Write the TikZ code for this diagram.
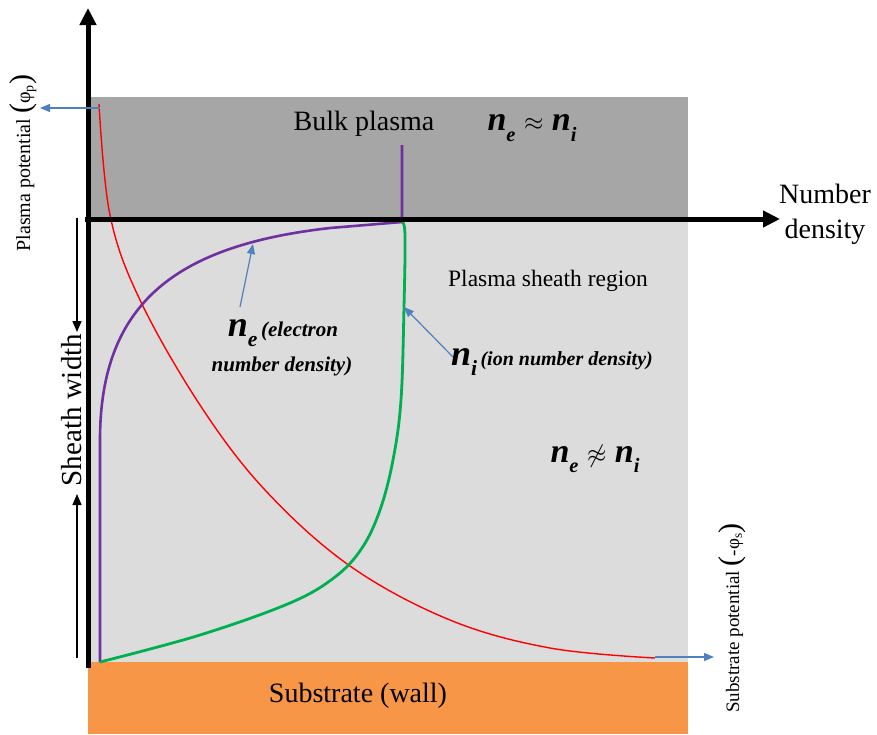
\documentclass[tikz,border=0pt]{standalone}
\usepackage{fontspec}
\setmainfont{Liberation Serif}
\usetikzlibrary{arrows.meta}
\definecolor{darkbg}{HTML}{A6A6A6}
\definecolor{lightbg}{HTML}{DCDCDC}
\definecolor{wallor}{HTML}{F79646}
\definecolor{pur}{HTML}{7030A0}
\definecolor{grn}{HTML}{00B050}
\definecolor{blu}{HTML}{4F81BD}
\newcommand{\nsym}[1]{\textbf{\textit{n}}\raisebox{-0.3em}{\fontsize{0.6em}{0.6em}\selectfont\textbf{\textit{#1}}}}
\tikzset{
  axis/.style={line width=5pt,-{Triangle[length=17pt,width=16pt]}},
  bluearrow/.style={blu,line width=1.2pt,-{Triangle[length=10pt,width=8pt]}},
  sharrow/.style={black,line width=1.3pt,-{Triangle[length=11pt,width=9pt]}},
  lab/.style={inner sep=0pt,font=\fontsize{28}{30}\selectfont},
  bigeq/.style={inner sep=0pt,font=\fontsize{34}{36}\selectfont},
  desc/.style={inner sep=0pt,font=\fontsize{21}{24}\selectfont\bfseries\itshape},
  small/.style={inner sep=0pt,font=\fontsize{20}{22}\selectfont},
}
\newcommand{\bigpar}[1]{{\fontsize{30}{30}\selectfont#1}}
\begin{document}
\begin{tikzpicture}[x=1pt,y=-1pt]
\useasboundingbox (0,0) rectangle (877,734);
% regions
\fill[darkbg] (88,97) rectangle (688,219);
\fill[lightbg] (88,219) rectangle (688,662);
\fill[wallor] (88,662) -- (688,662) -- (688,734) -- (88,734) -- cycle;
% curves
\draw[red,line width=1.4pt] plot[smooth,tension=0.6] coordinates {(99,104) (110,215) (140,300) (200,405) (265,490) (350,566) (450,620) (550,648) (655,658)};
\draw[pur,line width=2.6pt] (402,145) -- (402,222) -- (330,228) .. controls (180,245) and (100,300) .. (100,440) -- (100,662);
\draw[grn,line width=2.8pt] plot[smooth,tension=0.6] coordinates {(402,222) (405,235) (404,307) (401,400) (393,460) (380,510) (362,548) (335,577) (290,603) (200,635) (100,662)};
% axes
\coordinate (o) at (88,668);
\coordinate (ytop) at (88,8);
\coordinate (xl) at (85,219);
\coordinate (xr) at (780,219);
\draw[axis] (o) -- (ytop);
\draw[axis] (xl) -- (xr);
% blue arrows
\coordinate (pp1) at (100,108);
\coordinate (pp2) at (40,108);
\draw[bluearrow] (pp1) -- (pp2);
\coordinate (sp1) at (655,657);
\coordinate (sp2) at (714,657);
\draw[bluearrow] (sp1) -- (sp2);
\coordinate (ne1) at (240,307);
\coordinate (ne2) at (253,244);
\draw[bluearrow] (ne1) -- (ne2);
\coordinate (ni1) at (453,357);
\coordinate (ni2) at (404,307);
\draw[bluearrow] (ni1) -- (ni2);
% sheath width arrows
\coordinate (sw1) at (77,218);
\coordinate (sw2) at (77,332);
\coordinate (sw3) at (77,658);
\coordinate (sw4) at (77,494);
\draw[sharrow] (sw1) -- (sw2);
\draw[sharrow] (sw3) -- (sw4);
% labels
\node[lab] (bulk) at (364,124) {Bulk plasma};
\node[bigeq] (eq1) at (532,128) {\nsym{e} $\approx$ \nsym{i}};
\node[lab,align=center,font=\fontsize{28}{35}\selectfont] (nd) at (825,214) {Number\\ density};
\node[lab,font=\fontsize{23.5}{26}\selectfont] (psr) at (548,281) {Plasma sheath region};
\node[bigeq] (eq2) at (595,459) {\nsym{e} $\not\approx$ \nsym{i}};
\node[desc,anchor=base] (nel) at (283,336) {{\fontsize{36}{30}\selectfont\nsym{e}}\,(electron};
\node[desc,anchor=base] (nel2) at (282,371) {number density)};
\node[desc,font=\fontsize{20}{22}\selectfont\bfseries\itshape] (nil) at (552,362) {{\fontsize{36}{30}\selectfont\nsym{i}}\,(ion number density)};
\node[lab,rotate=90,font=\fontsize{29}{30}\selectfont] (sw) at (72,410) {Sheath width};
\node[lab] (wall) at (358,696) {Substrate (wall)};
\node[small,rotate=90] (ppl) at (23,163) {Plasma potential \bigpar{(}φ\textsubscript{p}\bigpar{)}};
\node[small,rotate=90,font=\fontsize{19}{22}\selectfont] (spl) at (732,618) {Substrate potential \bigpar{(}-φ\textsubscript{s}\bigpar{)}};
\end{tikzpicture}
\end{document}
